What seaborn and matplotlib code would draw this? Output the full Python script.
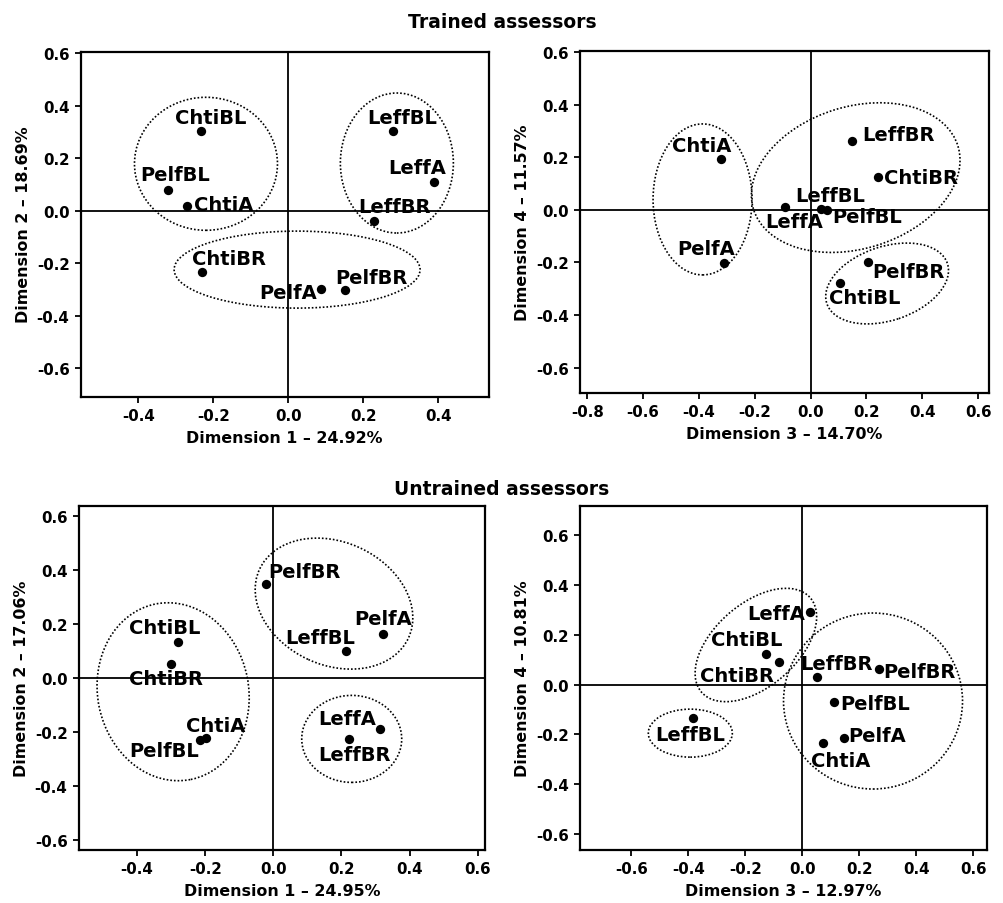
import matplotlib
matplotlib.use("Agg")
import matplotlib.pyplot as plt
import matplotlib.transforms as mtransforms
from matplotlib.patches import Ellipse
import seaborn as sns
import pandas as pd

# ---------------- data ----------------
# Trained assessors, dimensions 1 & 2
tr12_labels = ["ChtiBL", "PelfBL", "ChtiA", "ChtiBR", "PelfA", "PelfBR", "LeffBL", "LeffA", "LeffBR"]
tr12_x = [-0.234, -0.322, -0.271, -0.230, 0.087, 0.151, 0.279, 0.389, 0.228]
tr12_y = [0.302, 0.077, 0.018, -0.236, -0.297, -0.304, 0.303, 0.107, -0.039]

# Trained assessors, dimensions 3 & 4
tr34_labels = ["ChtiA", "PelfA", "LeffA", "LeffBL", "PelfBL", "LeffBR", "ChtiBR", "PelfBR", "ChtiBL"]
tr34_x = [-0.322, -0.312, -0.092, 0.037, 0.060, 0.147, 0.240, 0.207, 0.104]
tr34_y = [0.192, -0.202, 0.010, 0.003, 0.000, 0.263, 0.124, -0.197, -0.277]

# Untrained assessors, dimensions 1 & 2
un12_labels = ["PelfBR", "PelfA", "LeffBL", "ChtiBL", "ChtiBR", "ChtiA", "PelfBL", "LeffA", "LeffBR"]
un12_x = [-0.022, 0.322, 0.214, -0.279, -0.301, -0.199, -0.216, 0.312, 0.222]
un12_y = [0.348, 0.165, 0.100, 0.132, 0.052, -0.223, -0.231, -0.188, -0.228]

# Untrained assessors, dimensions 3 & 4
un34_labels = ["LeffA", "ChtiBL", "ChtiBR", "LeffBL", "LeffBR", "PelfBR", "PelfBL", "PelfA", "ChtiA"]
un34_x = [0.027, -0.127, -0.081, -0.382, 0.053, 0.268, 0.111, 0.146, 0.071]
un34_y = [0.291, 0.121, 0.091, -0.135, 0.031, 0.063, -0.071, -0.214, -0.234]

axis_titles = [
    ("Dimension 1 \u2013 24.92%", "Dimension 2 \u2013 18.69%"),
    ("Dimension 3 \u2013 14.70%", "Dimension 4 \u2013 11.57%"),
    ("Dimension 1 \u2013 24.95%", "Dimension 2 \u2013 17.06%"),
    ("Dimension 3 \u2013 12.97%", "Dimension 4 \u2013 10.81%"),
]
group_titles = ["Trained assessors", "Untrained assessors"]

# ---------------- layout / style (not data) ----------------
# label offsets in pixels (dx, dy) from point to label centre
off_tr12 = [(10, 14), (7, 16), (37, 1), (27, 14), (-33, -4), (26, 13), (9, 13), (-17, 15), (21, 14)]
off_tr34 = [(-19, 14), (-17, 15), (9, -14), (9, 14), (40, -7), (47, 6), (43, 0), (40, -10), (25, -15)]
off_un12 = [(39, 13), (0, 15), (-26, 14), (-14, 15), (-5, -15), (10, 13), (-36, -10), (-32, 10), (6, -15)]
off_un34 = [(-34, -1), (-19, 15), (-42, -14), (-3, -16), (19, 13), (41, -3), (41, -1), (33, 2), (18, -18)]

# cluster outlines: centre (data), width/height (inches), angle (deg, display)
ell_tr12 = [(-0.220, 0.178, 1.43, 1.33, 0), (0.289, 0.181, 1.13, 1.40, 0), (0.023, -0.225, 2.46, 0.77, 0)]
ell_tr34 = [(-0.387, 0.040, 0.99, 1.51, 0), (0.1615, 0.123, 2.14, 1.42, 17.2), (0.274, -0.280, 1.27, 0.74, 18.4)]
ell_un12 = [(-0.294, -0.051, 1.51, 1.79, 11.4), (0.178, 0.276, 1.64, 1.23, -24.6), (0.230, -0.226, 1.00, 0.87, 0)]
ell_un34 = [(-0.163, 0.159, 1.44, 0.83, 41), (-0.393, -0.195, 0.84, 0.48, 0), (0.248, -0.066, 1.79, 1.76, 0)]

sns.set_style("ticks")
plt.rcParams["font.family"] = ["DejaVu Sans"]
plt.rcParams["font.weight"] = "bold"
plt.rcParams["text.color"] = "black"
plt.rcParams["axes.labelcolor"] = "black"
plt.rcParams["xtick.color"] = "black"
plt.rcParams["ytick.color"] = "black"

fig = plt.figure(figsize=(10.04, 9.04), dpi=100)
rects = [
    [0.0804, 0.5601, 0.4064, 0.3816],
    [0.5777, 0.5638, 0.4071, 0.3790],
    [0.0784, 0.0590, 0.4050, 0.3798],
    [0.5777, 0.0590, 0.4057, 0.3798],
]
xlims = [(-0.554, 0.534), (-0.826, 0.638), (-0.571, 0.622), (-0.780, 0.649)]
ylims = [(-0.709, 0.605), (-0.698, 0.606), (-0.637, 0.637), (-0.663, 0.716)]
xticks = [[-0.4, -0.2, 0.0, 0.2, 0.4],
          [-0.8, -0.6, -0.4, -0.2, 0.0, 0.2, 0.4, 0.6],
          [-0.4, -0.2, 0.0, 0.2, 0.4, 0.6],
          [-0.6, -0.4, -0.2, 0.0, 0.2, 0.4, 0.6]]
yticks = [-0.6, -0.4, -0.2, 0.0, 0.2, 0.4, 0.6]

panels = [
    (tr12_labels, tr12_x, tr12_y, off_tr12, ell_tr12),
    (tr34_labels, tr34_x, tr34_y, off_tr34, ell_tr34),
    (un12_labels, un12_x, un12_y, off_un12, ell_un12),
    (un34_labels, un34_x, un34_y, off_un34, ell_un34),
]

for i, (labs, xs, ys, offs, ells) in enumerate(panels):
    ax = fig.add_axes(rects[i])
    df = pd.DataFrame({"x": xs, "y": ys, "label": labs})
    ax.axhline(0, color="black", lw=1.3, zorder=1)
    ax.axvline(0, color="black", lw=1.3, zorder=1)
    sns.scatterplot(data=df, x="x", y="y", ax=ax, color="black", s=45,
                    edgecolor="black", linewidth=0, zorder=3, legend=False)
    ax.set_xlim(*xlims[i])
    ax.set_ylim(*ylims[i])
    ax.set_xticks(xticks[i])
    ax.set_yticks(yticks)
    ax.xaxis.set_major_formatter(matplotlib.ticker.FormatStrFormatter("%.1f"))
    ax.yaxis.set_major_formatter(matplotlib.ticker.FormatStrFormatter("%.1f"))
    for lab, x, y, (dx, dy) in zip(labs, xs, ys, offs):
        ax.annotate(lab, (x, y), xytext=(dx, dy), textcoords="offset pixels",
                    ha="center", va="center", fontsize=14, fontweight="bold",
                    color="black", zorder=4)
    for (cx, cy, w, h, ang) in ells:
        tr = fig.dpi_scale_trans + mtransforms.ScaledTranslation(cx, cy, ax.transData)
        e = Ellipse((0, 0), w, h, angle=ang, transform=tr, fill=False,
                    edgecolor="black", lw=1.2, linestyle=(0, (1, 1.2)), zorder=2)
        ax.add_patch(e)
    for sp in ax.spines.values():
        sp.set_linewidth(1.6)
        sp.set_color("black")
        sp.set_visible(True)
    ax.tick_params(axis="both", direction="out", length=4, width=1.3, pad=4,
                   labelsize=10.8, colors="black")
    for t in ax.get_xticklabels() + ax.get_yticklabels():
        t.set_fontweight("bold")
    ax.set_xlabel(axis_titles[i][0], fontsize=11.4, fontweight="bold", labelpad=5, color="black")
    ax.set_ylabel(axis_titles[i][1], fontsize=11.4, fontweight="bold", labelpad=4, color="black")

fig.text(0.5, 0.9746, group_titles[0], ha="center", va="center", fontsize=13.5,
         fontweight="bold", color="black")
fig.text(0.5, 0.459, group_titles[1], ha="center", va="center", fontsize=13.5,
         fontweight="bold", color="black")

fig.savefig("out.png", dpi=100)
